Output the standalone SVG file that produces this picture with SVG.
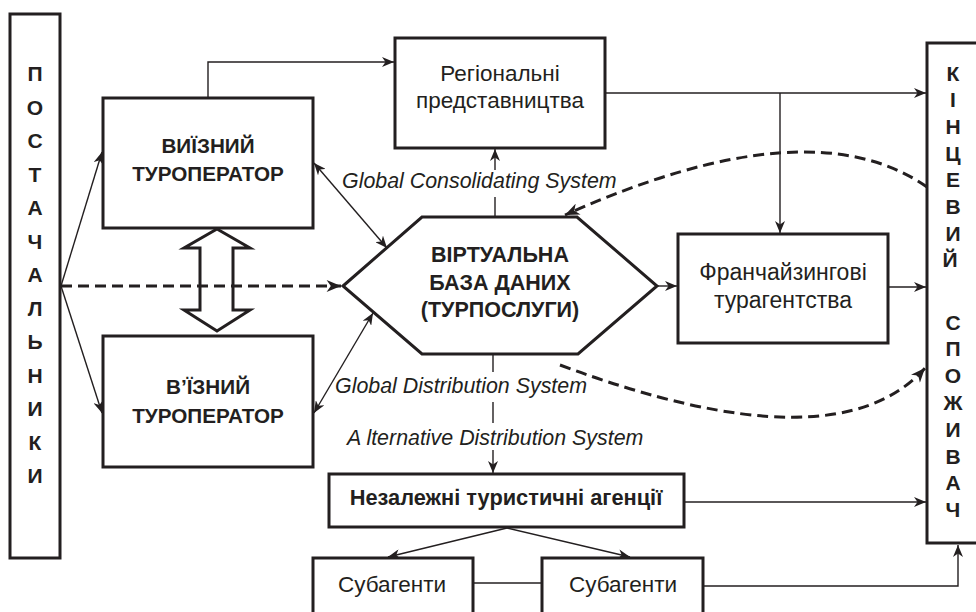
<svg xmlns="http://www.w3.org/2000/svg" width="976" height="612" viewBox="0 0 976 612">
<style>
.box{fill:#fff;stroke:#231f20;stroke-width:3}
.c{fill:none;stroke:#231f20;stroke-width:1.4}
.d{fill:none;stroke:#231f20;stroke-width:3;stroke-dasharray:11 6}
text{font-family:"Liberation Sans",Arial,sans-serif;fill:#231f20}
.b{font-weight:bold;font-size:20.7px;text-anchor:middle}
.r{font-size:22.5px;text-anchor:middle}
.i{font-style:italic;font-size:21.4px}
.v{font-weight:bold;font-size:21px;text-anchor:middle}
</style>
<defs>
<marker id="a" viewBox="0 0 12 10" refX="12" refY="5" markerWidth="12" markerHeight="10" markerUnits="userSpaceOnUse" orient="auto-start-reverse">
<path d="M0,0 L12,5 L0,10 L3.5,5 z" fill="#231f20"/>
</marker>
<marker id="ad" viewBox="0 0 12 10" refX="12" refY="5" markerWidth="15" markerHeight="12" markerUnits="userSpaceOnUse" orient="auto">
<path d="M0,0 L12,5 L0,10 L3.5,5 z" fill="#231f20"/>
</marker>
</defs>
<rect width="976" height="612" fill="#fff"/>

<g id="suppliers">
<rect class="box" x="10" y="14" width="50" height="544"/>
<text class="v">
<tspan x="35" y="81">П</tspan><tspan x="35" y="114.5">О</tspan><tspan x="35" y="148">С</tspan><tspan x="35" y="181.5">Т</tspan><tspan x="35" y="215">А</tspan><tspan x="35" y="248.5">Ч</tspan><tspan x="35" y="282">А</tspan><tspan x="35" y="315.5">Л</tspan><tspan x="35" y="349">Ь</tspan><tspan x="35" y="382.5">Н</tspan><tspan x="35" y="416">И</tspan><tspan x="35" y="449.5">К</tspan><tspan x="35" y="483">И</tspan>
</text>
</g>

<g id="consumer">
<rect class="box" x="927" y="43" width="60" height="500"/>
<text class="v">
<tspan x="953" y="80.5">К</tspan><tspan x="953" y="107.2">І</tspan><tspan x="953" y="133.9">Н</tspan><tspan x="953" y="160.6">Ц</tspan><tspan x="953" y="187.3">Е</tspan><tspan x="953" y="214">В</tspan><tspan x="953" y="240.7">И</tspan><tspan x="953" y="267.4">Й</tspan>
<tspan x="953" y="329.5">С</tspan><tspan x="953" y="356.3">П</tspan><tspan x="953" y="383.1">О</tspan><tspan x="953" y="409.9">Ж</tspan><tspan x="953" y="436.7">И</tspan><tspan x="953" y="463.5">В</tspan><tspan x="953" y="490.3">А</tspan><tspan x="953" y="517.1">Ч</tspan>
</text>
</g>

<g id="outbound">
<rect class="box" x="103" y="98" width="210" height="130"/>
<text class="b"><tspan x="208" y="153">ВИЇЗНИЙ</tspan><tspan x="208" y="181">ТУРОПЕРАТОР</tspan></text>
</g>

<g id="inbound">
<rect class="box" x="103" y="336" width="210" height="131"/>
<text class="b"><tspan x="208" y="394">В’ЇЗНИЙ</tspan><tspan x="208" y="423">ТУРОПЕРАТОР</tspan></text>
</g>

<g id="regional">
<rect class="box" x="395" y="38" width="210" height="110"/>
<text class="r"><tspan x="500" y="81">Регіональні</tspan><tspan x="500" y="108">представництва</tspan></text>
</g>

<g id="database">
<polygon class="box" points="343,286 422,217 577,217 657,286 578,354 422,354"/>
<text class="b" style="font-size:21.5px"><tspan x="500" y="262">ВІРТУАЛЬНА</tspan><tspan x="500" y="290">БАЗА ДАНИХ</tspan><tspan x="500" y="317">(ТУРПОСЛУГИ)</tspan></text>
</g>

<g id="franchise">
<rect class="box" x="678" y="234" width="210" height="109"/>
<text class="r" style="font-size:23px"><tspan x="783" y="280">Франчайзингові</tspan><tspan x="783" y="308">турагентства</tspan></text>
</g>

<g id="independent">
<rect class="box" x="329" y="474" width="355" height="53"/>
<text class="b" style="font-size:21.8px" x="506" y="505">Незалежні туристичні агенції</text>
</g>

<g id="subagent1">
<rect class="box" x="313" y="558" width="160" height="70"/>
<text class="r" x="392" y="592">Субагенти</text>
</g>

<g id="subagent2">
<rect class="box" x="542" y="558" width="161" height="70"/>
<text class="r" x="623" y="592">Субагенти</text>
</g>

<g id="labels">
<text class="i" x="342" y="188">Global Consolidating System</text>
<text class="i" x="335" y="393">Global Distribution System</text>
<text class="i" x="347" y="445">A lternative Distribution System</text>
</g>

<g id="connectors">
<polygon points="217,229 250,248 233,248 233,310 250,310 217,331 184,310 200,310 200,248 184,248" fill="#fff" stroke="#231f20" stroke-width="3"/>
<line class="d" x1="61" y1="286" x2="341" y2="286" marker-end="url(#ad)"/>
<line class="c" x1="61" y1="286" x2="102" y2="152" marker-end="url(#a)"/>
<line class="c" x1="61" y1="286" x2="102" y2="413" marker-end="url(#a)"/>
<polyline class="c" points="208,97 208,62 394,62" marker-end="url(#a)"/>
<line class="c" x1="314" y1="163" x2="387" y2="248" marker-start="url(#a)" marker-end="url(#a)"/>
<line class="c" x1="314" y1="413" x2="373" y2="313" marker-start="url(#a)" marker-end="url(#a)"/>
<line class="c" x1="495" y1="216" x2="495" y2="197"/>
<line class="c" x1="495" y1="170" x2="495" y2="149" marker-end="url(#a)"/>
<line class="c" x1="606" y1="93" x2="926" y2="93" marker-end="url(#a)"/>
<line class="c" x1="780" y1="93" x2="780" y2="233" marker-end="url(#a)"/>
<line class="c" x1="658" y1="286" x2="677" y2="286" marker-end="url(#a)"/>
<line class="c" x1="889" y1="287" x2="926" y2="287" marker-end="url(#a)"/>
<path class="d" d="M927,187 Q810,105 565,215" marker-end="url(#ad)"/>
<path class="d" d="M560,365 Q836,468 925,368" marker-end="url(#ad)"/>
<line class="c" x1="493" y1="355" x2="493" y2="372"/>
<line class="c" x1="493" y1="402" x2="493" y2="423"/>
<line class="c" x1="493" y1="450" x2="493" y2="473" marker-end="url(#a)"/>
<line class="c" x1="685" y1="502" x2="926" y2="502" marker-end="url(#a)"/>
<line class="c" x1="507" y1="528" x2="388" y2="557" marker-end="url(#a)"/>
<line class="c" x1="507" y1="528" x2="630" y2="557" marker-end="url(#a)"/>
<line class="c" x1="474" y1="583" x2="541" y2="583"/>
<polyline class="c" points="704,586 958,586 958,545" marker-end="url(#a)"/>
</g>
</svg>
